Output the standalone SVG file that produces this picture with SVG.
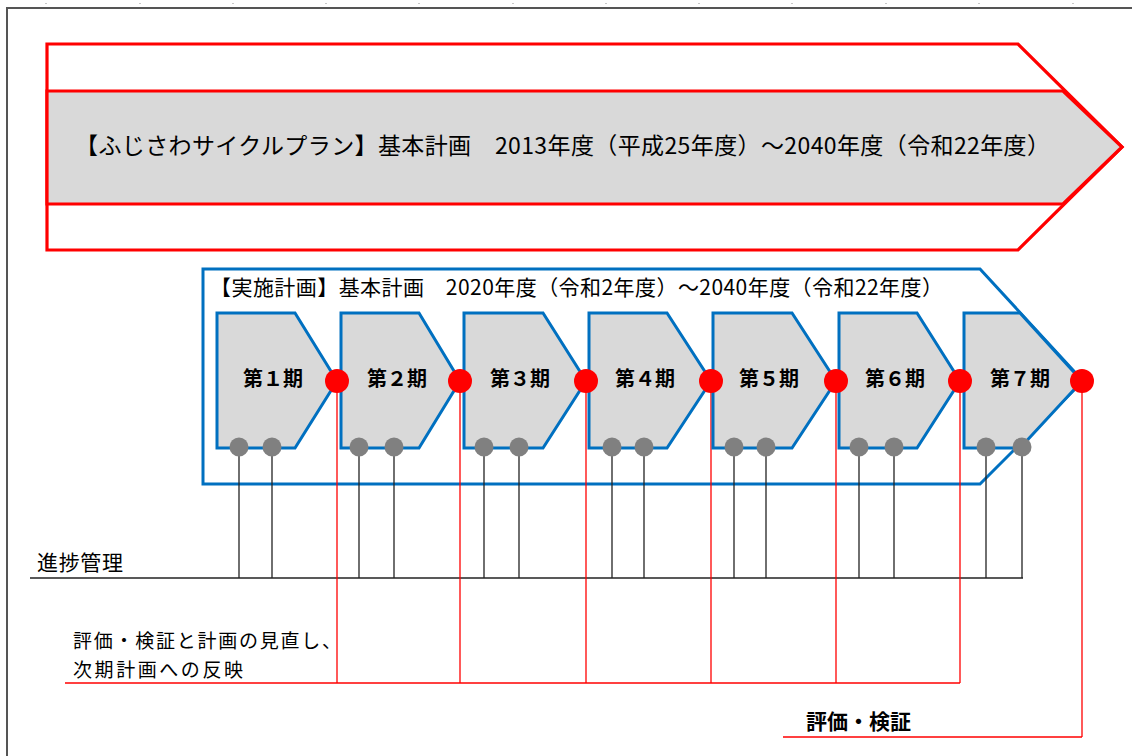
<svg xmlns="http://www.w3.org/2000/svg" width="1132" height="756" viewBox="0 0 1132 756">
  <style>
    .jp { font-family: "Noto Sans CJK JP", "Noto Sans", sans-serif; fill: #000; }
    .title { font-size: 23px; }
    .sub { font-size: 21px; }
    .phase-shape { fill: #D9D9D9; stroke: #0070C0; stroke-width: 3; stroke-linejoin: miter; }
    .phase-label { font-size: 20px; font-weight: bold; text-anchor: middle; }
    .red-dot { fill: #FF0000; }
    .gray-dot { fill: #808080; }
    .blk { stroke: #222; stroke-width: 1.3; fill: none; }
    .red { stroke: #FF0000; stroke-width: 1.3; fill: none; }
    .tick { fill: #c8c8c8; }
  </style>

  <rect width="1132" height="756" fill="#fff"/>

  <!-- ruler ticks -->
  <g id="ticks">
    <rect class="tick" x="45" y="3" width="2" height="1"/>
    <rect class="tick" x="139" y="3" width="2" height="1"/>
    <rect class="tick" x="232" y="3" width="2" height="1"/>
    <rect class="tick" x="325" y="3" width="2" height="1"/>
    <rect class="tick" x="418" y="3" width="2" height="1"/>
    <rect class="tick" x="512" y="3" width="2" height="1"/>
    <rect class="tick" x="605" y="3" width="2" height="1"/>
    <rect class="tick" x="698" y="3" width="2" height="1"/>
    <rect class="tick" x="791" y="3" width="2" height="1"/>
    <rect class="tick" x="885" y="3" width="2" height="1"/>
    <rect class="tick" x="978" y="3" width="2" height="1"/>
    <rect class="tick" x="1072" y="3" width="2" height="1"/>
  </g>

  <!-- page frame -->
  <rect id="frame" x="7" y="8" width="1200" height="800" fill="none" stroke="#555" stroke-width="2"/>

  <!-- overall plan arrow -->
  <g id="fujisawa-plan">
    <polygon points="47,44 1018,44 1122,147 1018,250 47,250" fill="#fff" stroke="#FF0000" stroke-width="3.2"/>
    <polygon points="47,91 1063,91 1122,147 1063,204 47,204" fill="#D9D9D9" stroke="#FF0000" stroke-width="3.2"/>
    <text class="jp title" x="75" y="154" textLength="975" lengthAdjust="spacing">【ふじさわサイクルプラン】基本計画　2013年度（平成25年度）～2040年度（令和22年度）</text>
  </g>

  <!-- implementation plan frame -->
  <g id="implementation-plan">
    <polygon points="203,269 980,269 1083,381 980,484 203,484" fill="#fff" stroke="#0070C0" stroke-width="3"/>
    <text class="jp sub" x="210" y="295" textLength="733" lengthAdjust="spacing">【実施計画】基本計画　2020年度（令和2年度）～2040年度（令和22年度）</text>
  </g>

  <!-- connectors -->
  <g id="connectors">
    <!-- progress management -->
    <line class="blk" x1="30" y1="578" x2="1023" y2="578"/>
    <line class="blk" x1="239" y1="447" x2="239" y2="578"/>
    <line class="blk" x1="272" y1="447" x2="272" y2="578"/>
    <line class="blk" x1="359" y1="447" x2="359" y2="578"/>
    <line class="blk" x1="394" y1="447" x2="394" y2="578"/>
    <line class="blk" x1="484" y1="447" x2="484" y2="578"/>
    <line class="blk" x1="519" y1="447" x2="519" y2="578"/>
    <line class="blk" x1="612" y1="447" x2="612" y2="578"/>
    <line class="blk" x1="644" y1="447" x2="644" y2="578"/>
    <line class="blk" x1="734" y1="447" x2="734" y2="578"/>
    <line class="blk" x1="766" y1="447" x2="766" y2="578"/>
    <line class="blk" x1="859" y1="447" x2="859" y2="578"/>
    <line class="blk" x1="894" y1="447" x2="894" y2="578"/>
    <line class="blk" x1="986" y1="447" x2="986" y2="578"/>
    <line class="blk" x1="1022" y1="447" x2="1022" y2="578"/>
    <!-- review & reflect -->
    <line class="red" x1="65" y1="683" x2="960" y2="683"/>
    <line class="red" x1="337" y1="381" x2="337" y2="683"/>
    <line class="red" x1="460" y1="381" x2="460" y2="683"/>
    <line class="red" x1="586" y1="381" x2="586" y2="683"/>
    <line class="red" x1="711" y1="381" x2="711" y2="683"/>
    <line class="red" x1="836" y1="381" x2="836" y2="683"/>
    <line class="red" x1="960" y1="381" x2="960" y2="683"/>
    <!-- final evaluation -->
    <line class="red" x1="783" y1="737" x2="1082" y2="737"/>
    <line class="red" x1="1082" y1="381" x2="1082" y2="737"/>
  </g>

  <!-- phases -->
  <g id="phase1">
    <polygon class="phase-shape" points="217,313 295,313 337,381 295,448 217,448"/>
    <text class="jp phase-label" x="273" y="386">第１期</text>
  </g>
  <g id="phase2">
    <polygon class="phase-shape" points="341,313 419,313 460,381 419,448 341,448"/>
    <text class="jp phase-label" x="397" y="386">第２期</text>
  </g>
  <g id="phase3">
    <polygon class="phase-shape" points="464,313 543,313 586,381 543,448 464,448"/>
    <text class="jp phase-label" x="520" y="386">第３期</text>
  </g>
  <g id="phase4">
    <polygon class="phase-shape" points="589,313 667,313 711,381 667,448 589,448"/>
    <text class="jp phase-label" x="645" y="386">第４期</text>
  </g>
  <g id="phase5">
    <polygon class="phase-shape" points="713,313 792,313 836,381 792,448 713,448"/>
    <text class="jp phase-label" x="769" y="386">第５期</text>
  </g>
  <g id="phase6">
    <polygon class="phase-shape" points="839,313 917,313 960,381 917,448 839,448"/>
    <text class="jp phase-label" x="895" y="386">第６期</text>
  </g>
  <g id="phase7">
    <polygon class="phase-shape" points="964,313 1020,313 1082,381 1020,448 964,448"/>
    <text class="jp phase-label" x="1020" y="386">第７期</text>
  </g>

  <!-- progress checkpoints (gray) -->
  <g id="checkpoints">
    <circle class="gray-dot" cx="239" cy="447" r="9.5"/>
    <circle class="gray-dot" cx="272" cy="447" r="9.5"/>
    <circle class="gray-dot" cx="359" cy="447" r="9.5"/>
    <circle class="gray-dot" cx="394" cy="447" r="9.5"/>
    <circle class="gray-dot" cx="484" cy="447" r="9.5"/>
    <circle class="gray-dot" cx="519" cy="447" r="9.5"/>
    <circle class="gray-dot" cx="612" cy="447" r="9.5"/>
    <circle class="gray-dot" cx="644" cy="447" r="9.5"/>
    <circle class="gray-dot" cx="734" cy="447" r="9.5"/>
    <circle class="gray-dot" cx="766" cy="447" r="9.5"/>
    <circle class="gray-dot" cx="859" cy="447" r="9.5"/>
    <circle class="gray-dot" cx="894" cy="447" r="9.5"/>
    <circle class="gray-dot" cx="986" cy="447" r="9.5"/>
    <circle class="gray-dot" cx="1022" cy="447" r="9.5"/>
  </g>

  <!-- evaluation points (red) -->
  <g id="milestones">
    <circle class="red-dot" cx="337" cy="381" r="12"/>
    <circle class="red-dot" cx="460" cy="381" r="12"/>
    <circle class="red-dot" cx="586" cy="381" r="12"/>
    <circle class="red-dot" cx="711" cy="381" r="12"/>
    <circle class="red-dot" cx="836" cy="381" r="12"/>
    <circle class="red-dot" cx="960" cy="381" r="12"/>
    <circle class="red-dot" cx="1082" cy="381" r="12"/>
  </g>

  <!-- labels -->
  <g id="label-progress">
    <text class="jp" x="37" y="570" font-size="21" textLength="86" lengthAdjust="spacing">進捗管理</text>
  </g>
  <g id="label-review">
    <text class="jp" x="73" y="648" font-size="19" textLength="268" lengthAdjust="spacing">評価・検証と計画の見直し、</text>
    <text class="jp" x="73" y="677" font-size="19" textLength="170" lengthAdjust="spacing">次期計画への反映</text>
  </g>
  <g id="label-evaluation">
    <text class="jp" x="806" y="729" font-size="21" font-weight="bold">評価・検証</text>
  </g>
</svg>
